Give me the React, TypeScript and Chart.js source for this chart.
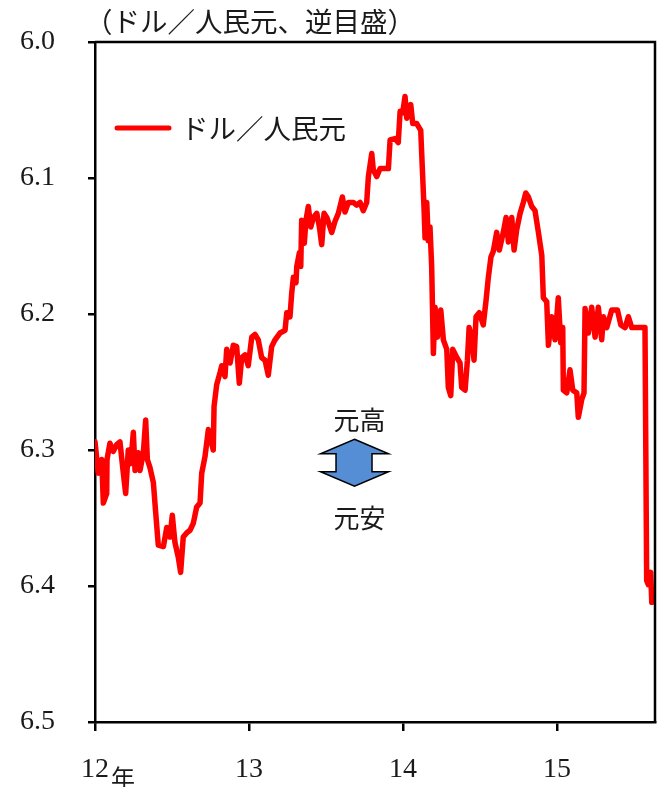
import React, { useEffect, useRef } from "react";
import { Chart, registerables } from "chart.js";

Chart.register(...registerables);

// Decimal year of each observation
const years: number[] = [
  2012.0, 2012.021, 2012.044, 2012.054, 2012.076, 2012.078, 2012.097, 2012.119, 2012.141, 2012.162,
  2012.184, 2012.199, 2012.216, 2012.232, 2012.249, 2012.26, 2012.281, 2012.292, 2012.314, 2012.329,
  2012.34, 2012.357, 2012.379, 2012.394, 2012.411, 2012.444, 2012.466, 2012.487, 2012.502, 2012.519,
  2012.541, 2012.556, 2012.573, 2012.595, 2012.617, 2012.638, 2012.66, 2012.682, 2012.693, 2012.714,
  2012.736, 2012.768, 2012.773, 2012.79, 2012.812, 2012.823, 2012.844, 2012.855, 2012.877, 2012.898,
  2012.92, 2012.937, 2012.953, 2012.974, 2012.995, 2013.018, 2013.039, 2013.06, 2013.082, 2013.104,
  2013.125, 2013.147, 2013.169, 2013.201, 2013.234, 2013.245, 2013.266, 2013.277, 2013.288, 2013.305,
  2013.31, 2013.327, 2013.336, 2013.342, 2013.359, 2013.37, 2013.385, 2013.401, 2013.418, 2013.44,
  2013.457, 2013.472, 2013.487, 2013.505, 2013.537, 2013.558, 2013.58, 2013.606, 2013.623, 2013.645,
  2013.677, 2013.699, 2013.721, 2013.742, 2013.764, 2013.775, 2013.797, 2013.807, 2013.829, 2013.851,
  2013.905, 2013.916, 2013.948, 2013.969, 2013.981, 2013.998, 2014.013, 2014.024, 2014.05, 2014.063,
  2014.089, 2014.115, 2014.125, 2014.136, 2014.143, 2014.154, 2014.164, 2014.175, 2014.186, 2014.197,
  2014.208, 2014.223, 2014.245, 2014.262, 2014.284, 2014.294, 2014.31, 2014.323, 2014.349, 2014.37,
  2014.381, 2014.403, 2014.418, 2014.429, 2014.446, 2014.461, 2014.474, 2014.495, 2014.521, 2014.539,
  2014.554, 2014.571, 2014.586, 2014.608, 2014.625, 2014.651, 2014.669, 2014.684, 2014.706, 2014.721,
  2014.738, 2014.76, 2014.781, 2014.797, 2014.814, 2014.836, 2014.857, 2014.879, 2014.901, 2014.911,
  2014.933, 2014.944, 2014.965, 2014.987, 2015.008, 2015.024, 2015.037, 2015.041, 2015.063, 2015.084,
  2015.102, 2015.128, 2015.138, 2015.16, 2015.175, 2015.182, 2015.203, 2015.225, 2015.247, 2015.268,
  2015.29, 2015.301, 2015.323, 2015.355, 2015.392, 2015.414, 2015.442, 2015.463, 2015.485, 2015.571,
  2015.582, 2015.592, 2015.608, 2015.615,
];

// USD/CNY rate at each observation
const rates: number[] = [
  6.294, 6.317, 6.307, 6.339, 6.332, 6.307, 6.295, 6.301, 6.296, 6.294,
  6.317, 6.332, 6.3, 6.31, 6.287, 6.315, 6.302, 6.315, 6.302, 6.278,
  6.307, 6.313, 6.324, 6.346, 6.37, 6.371, 6.357, 6.364, 6.348, 6.368,
  6.379, 6.39, 6.364, 6.361, 6.359, 6.354, 6.342, 6.339, 6.317, 6.305,
  6.285, 6.3, 6.268, 6.252, 6.243, 6.238, 6.246, 6.226, 6.236, 6.223,
  6.224, 6.251, 6.232, 6.23, 6.238, 6.217, 6.215, 6.219, 6.232, 6.234,
  6.245, 6.224, 6.219, 6.214, 6.212, 6.199, 6.202, 6.185, 6.173, 6.177,
  6.165, 6.155, 6.165, 6.131, 6.148, 6.131, 6.121, 6.136, 6.129, 6.126,
  6.136, 6.149, 6.126, 6.129, 6.14, 6.132, 6.126, 6.114, 6.125, 6.118,
  6.118, 6.12, 6.118, 6.124, 6.118, 6.099, 6.082, 6.094, 6.099, 6.093,
  6.093, 6.072, 6.071, 6.074, 6.051, 6.052, 6.04, 6.056, 6.046, 6.06,
  6.06, 6.065, 6.092, 6.121, 6.144, 6.118, 6.146, 6.136, 6.165, 6.229,
  6.195, 6.217, 6.197, 6.219, 6.226, 6.254, 6.26, 6.226, 6.232, 6.236,
  6.254, 6.256, 6.234, 6.21, 6.217, 6.234, 6.202, 6.199, 6.208, 6.19,
  6.173, 6.158, 6.154, 6.14, 6.153, 6.14, 6.129, 6.147, 6.129, 6.153,
  6.138, 6.126, 6.118, 6.111, 6.114, 6.121, 6.124, 6.14, 6.157, 6.188,
  6.191, 6.223, 6.202, 6.219, 6.188, 6.221, 6.21, 6.256, 6.258, 6.241,
  6.256, 6.258, 6.276, 6.263, 6.258, 6.196, 6.214, 6.195, 6.217, 6.195,
  6.219, 6.202, 6.21, 6.197, 6.197, 6.208, 6.21, 6.202, 6.21, 6.21,
  6.396, 6.399, 6.39, 6.412,
];

const yTickValues: number[] = [6.0, 6.1, 6.2, 6.3, 6.4, 6.5];
const xTickYears: number[] = [2012, 2013, 2014, 2015];
const xTickLabels: string[] = ["12", "13", "14", "15"];
const firstYearSuffix = "年";
const seriesLabel = "ドル／人民元";
const titleText = "（ドル／人民元、逆目盛）";
const upLabel = "元高";
const downLabel = "元安";

const CJK = '"Noto Sans CJK JP", "Noto Sans", sans-serif';
const SERIF = '"Liberation Serif", "DejaVu Serif", serif';

const overlayPlugin = {
  id: "overlay",
  afterDraw(chart: any) {
    const { ctx, chartArea } = chart;
    const { left, top, right, bottom } = chartArea;
    const xs = chart.scales.x;
    const ys = chart.scales.y;
    ctx.save();

    // frame (top and right sides)
    ctx.strokeStyle = "#000";
    ctx.lineWidth = 2.5;
    ctx.beginPath();
    ctx.moveTo(left, top);
    ctx.lineTo(right, top);
    ctx.lineTo(right, bottom);
    ctx.stroke();

    // title
    ctx.fillStyle = "#1a1a1a";
    ctx.font = `27.5px ${CJK}`;
    ctx.textAlign = "left";
    ctx.textBaseline = "middle";
    ctx.fillText(titleText, left - 10, top - 20);

    // legend
    ctx.strokeStyle = "#FF0000";
    ctx.lineWidth = 5;
    ctx.lineCap = "round";
    ctx.beginPath();
    ctx.moveTo(left + 22, top + 86);
    ctx.lineTo(left + 74, top + 86);
    ctx.stroke();
    ctx.font = `27.5px ${CJK}`;
    ctx.fillText(seriesLabel, left + 86, top + 87);

    // "年" after the first year label
    ctx.font = `24px ${CJK}`;
    ctx.fillText(firstYearSuffix, xs.getPixelForValue(xTickYears[0]) + 16, bottom + 56);

    // arrow annotation
    const cx = xs.getPixelForValue(2013.685);
    const cy = ys.getPixelForValue(6.309);
    ctx.fillStyle = "#558ED5";
    ctx.strokeStyle = "#000";
    ctx.lineWidth = 1.5;
    ctx.lineCap = "butt";
    ctx.lineJoin = "miter";
    const pts: [number, number][] = [
      [0, -23], [34, -8.5], [17.5, -8.5], [17.5, 9.5], [34, 9.5],
      [0, 24], [-34, 9.5], [-18.5, 9.5], [-18.5, -8.5], [-34, -8.5],
    ];
    ctx.beginPath();
    pts.forEach(([dx, dy], i) => {
      if (i === 0) ctx.moveTo(cx + dx, cy + dy);
      else ctx.lineTo(cx + dx, cy + dy);
    });
    ctx.closePath();
    ctx.fill();
    ctx.stroke();

    ctx.fillStyle = "#1a1a1a";
    ctx.font = `26px ${CJK}`;
    ctx.textAlign = "center";
    ctx.fillText(upLabel, cx + 5, cy - 42);
    ctx.fillText(downLabel, cx + 5, cy + 56);

    ctx.restore();
  },
};

export default function App() {
  const canvasRef = useRef<HTMLCanvasElement | null>(null);

  useEffect(() => {
    const canvas = canvasRef.current;
    if (!canvas) return;
    const chart = new Chart(canvas, {
      type: "line",
      data: {
        datasets: [
          {
            label: seriesLabel,
            data: years.map((x, i) => ({ x, y: rates[i] })),
            borderColor: "#FF0000",
            backgroundColor: "#FF0000",
            borderWidth: 5.5,
            pointRadius: 0,
            tension: 0,
            borderJoinStyle: "round",
            borderCapStyle: "round",
          },
        ],
      },
      options: {
        responsive: false,
        animation: false,
        devicePixelRatio: 1,
        layout: { padding: { top: 42, right: 4, left: 0, bottom: 0 } },
        plugins: {
          legend: { display: false },
          tooltip: { enabled: false },
          title: { display: false },
        },
        scales: {
          x: {
            type: "linear",
            min: 2012,
            max: 2015.636,
            afterBuildTicks: (s: any) => {
              s.ticks = xTickYears.map((v) => ({ value: v }));
            },
            afterFit: (s: any) => {
              s.height = 65;
              s.paddingLeft = 0;
              s.paddingRight = 0;
            },
            grid: {
              drawOnChartArea: false,
              drawTicks: true,
              tickLength: 9,
              color: "#000",
              lineWidth: 2.5,
            },
            border: { display: true, color: "#000", width: 2.5 },
            ticks: {
              autoSkip: false,
              maxRotation: 0,
              padding: 22,
              color: "#1a1a1a",
              font: { family: SERIF, size: 28 },
              callback: (_v: any, i: number) => xTickLabels[i],
            },
          },
          y: {
            type: "linear",
            reverse: true,
            min: 6.0,
            max: 6.5,
            afterBuildTicks: (s: any) => {
              s.ticks = yTickValues.map((v) => ({ value: v }));
            },
            afterFit: (s: any) => {
              s.width = 95;
              s.paddingTop = 0;
              s.paddingBottom = 0;
            },
            grid: {
              drawOnChartArea: false,
              drawTicks: true,
              tickLength: 7,
              color: "#000",
              lineWidth: 2.5,
            },
            border: { display: true, color: "#000", width: 2.5 },
            ticks: {
              padding: 33,
              color: "#1a1a1a",
              font: { family: SERIF, size: 28 },
              callback: (v: any) => Number(v).toFixed(1),
            },
          },
        },
      },
      plugins: [overlayPlugin],
    });
    return () => chart.destroy();
  }, []);

  return (
    <div style={{ position: "absolute", left: 0, top: 0, width: 659, height: 787, background: "#fff" }}>
      <canvas ref={canvasRef} width={659} height={787} style={{ display: "block", width: 659, height: 787 }} />
    </div>
  );
}
